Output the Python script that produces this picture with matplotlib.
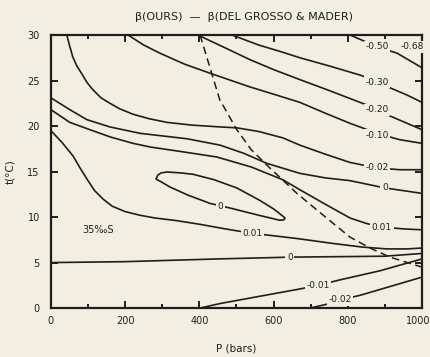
import matplotlib.pyplot as plt

# contour lines: pressure (bars) and temperature (deg C)
m050_p = [806, 846, 879, 933, 1000]
m050_t = [30.0, 29.3, 28.7, 28.0, 26.4]

m030_p = [488, 560, 625, 671, 750, 833, 879, 914, 960, 1000]
m030_t = [30.0, 28.9, 28.1, 27.5, 26.6, 25.6, 24.9, 24.2, 23.4, 22.6]

m020_p = [396, 469, 536, 600, 671, 750, 833, 879, 914, 960, 1000]
m020_t = [30.0, 28.6, 27.3, 26.2, 25.1, 23.9, 22.6, 21.9, 21.1, 20.3, 19.6]

m010_p = [208, 250, 294, 360, 429, 536, 600, 671, 740, 806, 879, 940, 1000]
m010_t = [30.0, 28.9, 28.0, 26.8, 25.8, 24.3, 23.5, 22.6, 21.4, 20.3, 19.2, 18.5, 18.1]

m002_p = [43, 50, 59, 70, 84, 97, 113, 135, 159, 185, 221, 265, 313, 380, 456,
          501, 560, 625, 671, 740, 806, 879, 940, 1000]
m002_t = [30.0, 28.9, 27.6, 26.6, 25.7, 24.8, 24.0, 23.1, 22.5, 21.9, 21.3, 20.8,
          20.4, 20.1, 19.9, 19.8, 19.4, 18.7, 17.9, 16.9, 16.0, 15.4, 15.2, 15.2]

zero_up_p = [0, 51, 97, 159, 240, 367, 456, 520, 582, 671, 740, 806, 900, 1000]
zero_up_t = [23.1, 21.8, 20.7, 19.9, 19.2, 18.6, 17.9, 17.0, 15.9, 14.8, 14.3, 14.0, 13.2, 12.6]

p001_up_p = [0, 51, 105, 160, 221, 267, 350, 447, 540, 625, 671, 740, 806, 850, 892, 950, 1000]
p001_up_t = [21.8, 20.4, 19.6, 18.8, 18.1, 17.7, 17.2, 16.6, 15.5, 14.1, 13.0, 11.4, 9.9, 9.3, 8.9, 8.7, 8.6]

zero_loop_p = [284, 288, 297, 313, 350, 383, 440, 501, 560, 600, 622, 631, 628,
               617, 560, 482, 429, 370, 321, 296, 286, 284]
zero_loop_t = [14.2, 14.6, 14.85, 14.95, 14.85, 14.7, 14.1, 13.2, 11.9, 10.9, 10.2,
               9.9, 9.7, 9.65, 10.2, 11.0, 11.5, 12.4, 13.3, 13.9, 14.1, 14.2]

p001_lo_p = [0, 30, 60, 80, 100, 118, 140, 165, 200, 240, 280, 340, 402, 470, 544,
             610, 671, 760, 840, 906, 960, 1000]
p001_lo_t = [19.5, 18.2, 16.7, 15.3, 14.0, 12.9, 12.0, 11.2, 10.6, 10.2, 9.9, 9.6,
             9.2, 8.7, 8.2, 7.9, 7.6, 7.1, 6.7, 6.5, 6.5, 6.6]

zero_lo_p = [0, 200, 450, 650, 900, 1000]
zero_lo_t = [5.0, 5.1, 5.4, 5.6, 5.7, 6.0]

m001_p = [402, 456, 563, 671, 720, 779, 887, 1000]
m001_t = [0.0, 0.5, 1.3, 2.1, 2.5, 3.1, 4.1, 5.4]

m002_lo_p = [698, 752, 779, 833, 1000]
m002_lo_t = [0.0, 0.5, 0.9, 1.4, 3.4]

dash_p = [402, 455, 501, 540, 590, 663, 740, 806, 860, 914, 1000]
dash_t = [30.0, 22.9, 19.6, 17.4, 15.4, 12.6, 10.0, 7.8, 6.6, 5.6, 4.5]

label_text = ['-0.50', '-0.68', '-0.30', '-0.20', '-0.10', '-0.02', '0', '0.01',
              '0', '0.01', '0', '-0.01', '-0.02']
label_p = [879, 975, 879, 879, 879, 879, 900, 892, 456, 544, 644, 720, 779]
label_t = [28.7, 28.7, 24.8, 21.8, 19.0, 15.4, 13.2, 8.9, 11.2, 8.2, 5.6, 2.5, 0.9]

x_ticks = [0, 200, 400, 600, 800, 1000]
x_minor = [100, 300, 500, 700, 900]
y_ticks = [0, 5, 10, 15, 20, 25, 30]

bg = '#f2eee2'
ink = '#1e1e1e'

fig = plt.figure(figsize=(4.31, 3.57), dpi=100, facecolor=bg)
ax = fig.add_axes([0.118, 0.137, 0.861, 0.765], facecolor=bg)

lines = [(m050_p, m050_t), (m030_p, m030_t), (m020_p, m020_t), (m010_p, m010_t),
         (m002_p, m002_t), (zero_up_p, zero_up_t), (p001_up_p, p001_up_t),
         (zero_loop_p, zero_loop_t), (p001_lo_p, p001_lo_t), (zero_lo_p, zero_lo_t),
         (m001_p, m001_t), (m002_lo_p, m002_lo_t)]
for p, t in lines:
    ax.plot(p, t, color=ink, lw=1.2, solid_capstyle='round', solid_joinstyle='round')

ax.plot(dash_p, dash_t, color=ink, lw=1.1, linestyle=(0, (5, 3)))

for s, p, t in zip(label_text, label_p, label_t):
    ax.text(p, t, s, ha='center', va='center', fontsize=6.5, color=ink,
            bbox=dict(facecolor=bg, edgecolor='none', pad=1.2))

ax.text(85, 8.6, '35‰S', ha='left', va='center', fontsize=7, color=ink)

ax.set_xlim(0, 1000)
ax.set_ylim(0, 30)
# last x label is drawn separately, nudged left so it stays inside the picture
ax.set_xticks(x_ticks, [str(v) for v in x_ticks[:-1]] + [''])
ax.set_xticks(x_minor, minor=True)
ax.set_yticks(y_ticks)
ax.annotate(str(x_ticks[-1]), xy=(x_ticks[-1], 0), xycoords='data',
            xytext=(-2.5, -6), textcoords='offset points',
            ha='center', va='top', fontsize=7, color=ink)

ax.tick_params(which='both', direction='in', top=True, right=True,
               width=1.4, colors=ink, labelsize=7)
ax.tick_params(axis='x', pad=6)
ax.tick_params(axis='y', pad=8)
ax.tick_params(which='major', length=5)
ax.tick_params(which='minor', length=3)
for sp in ax.spines.values():
    sp.set_linewidth(1.6)
    sp.set_color(ink)

ax.set_xlabel('P (bars)', fontsize=7.5, color=ink, labelpad=12)
ax.set_ylabel('t(°C)', fontsize=7.5, color=ink, labelpad=9)
ax.set_title('β(OURS)  —  β(DEL GROSSO & MADER)', fontsize=8, color=ink, pad=11, x=0.52)

fig.savefig('out.png', dpi=100, facecolor=bg)
